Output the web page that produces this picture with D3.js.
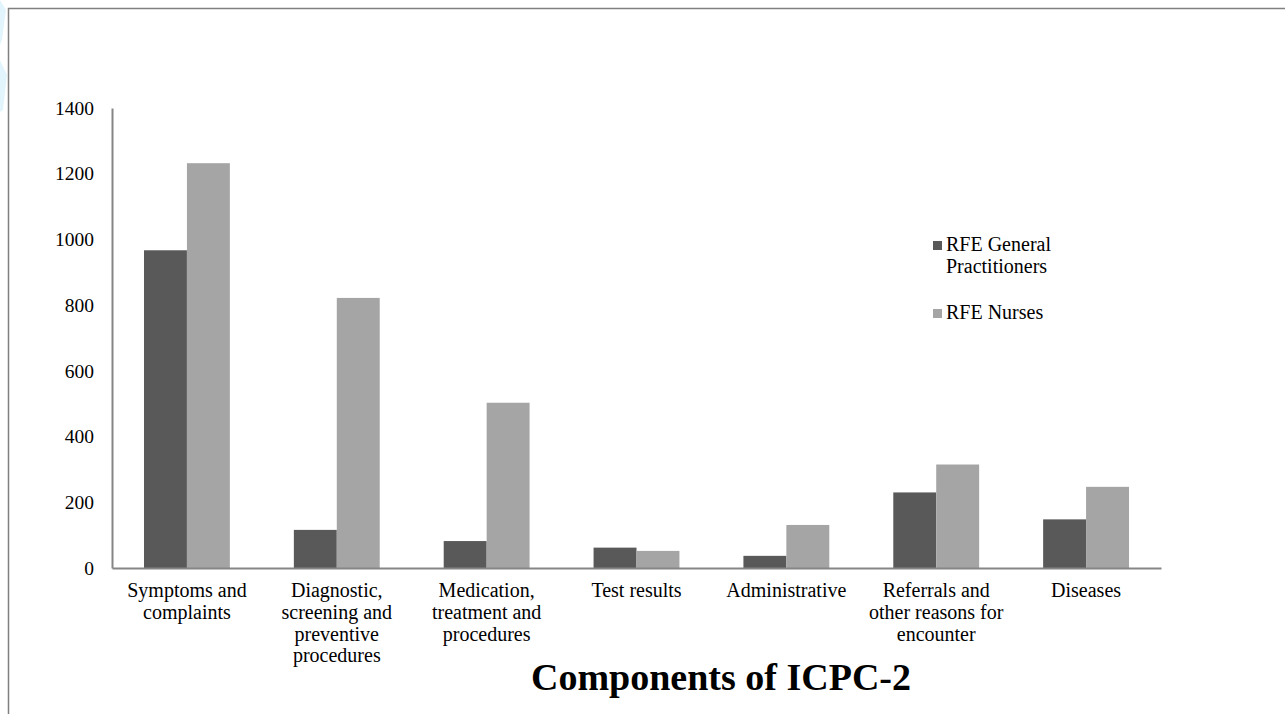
<!DOCTYPE html>
<html>
<head>
<meta charset="utf-8">
<script src="https://cdn.jsdelivr.net/npm/d3@7"></script>
<style>
  html, body { margin: 0; padding: 0; background: #fff; }
  svg { display: block; }
</style>
</head>
<body>
<svg id="chart" width="1285" height="714"></svg>
<script>
const categories = [
  "Symptoms and complaints",
  "Diagnostic, screening and preventive procedures",
  "Medication, treatment and procedures",
  "Test results",
  "Administrative",
  "Referrals and other reasons for encounter",
  "Diseases"
];
const categoryLines = [
  ["Symptoms and", "complaints"],
  ["Diagnostic,", "screening and", "preventive", "procedures"],
  ["Medication,", "treatment and", "procedures"],
  ["Test results"],
  ["Administrative"],
  ["Referrals and", "other reasons for", "encounter"],
  ["Diseases"]
];
const seriesNames = ["RFE General Practitioners", "RFE Nurses"];
const legendLines = [["RFE General", "Practitioners"], ["RFE Nurses"]];
const gpValues = [967, 116, 82, 62, 37, 230, 148];
const nurseValues = [1232, 822, 503, 52, 131, 315, 247];
const yTicks = [0, 200, 400, 600, 800, 1000, 1200, 1400];
const titleText = "Components of ICPC-2";

const colors = ["#595959", "#a5a5a5"];
const font = "'Liberation Serif', 'Times New Roman', serif";

const svg = d3.select("#chart");

// decorative left-edge tint
svg.append("path").attr("d", "M0,0 L6,10 L2,40 L0,45 Z").attr("fill", "#e3f5fc");
svg.append("path").attr("d", "M0,60 L7,75 L3,110 L0,112 Z").attr("fill", "#e3f5fc");

// outer frame
svg.append("path")
  .attr("d", "M8.5,714 L8.5,8.5 L1285,8.5")
  .attr("fill", "none").attr("stroke", "#808080").attr("stroke-width", 1.5);

const plotLeft = 112, plotRight = 1161, plotTop = 108, plotBottom = 568;

const x0 = d3.scaleBand().domain(categories).range([plotLeft, plotRight])
  .paddingInner(0.427).paddingOuter(0.2135);
const x1 = d3.scaleBand().domain(seriesNames).range([0, x0.bandwidth()]).padding(0);
const y = d3.scaleLinear().domain([0, 1400]).range([plotBottom, plotTop]);

// bars
const groups = svg.append("g").selectAll("g").data(categories).join("g")
  .attr("transform", d => `translate(${x0(d)},0)`);
groups.selectAll("rect")
  .data((d, i) => [
    { s: seriesNames[0], v: gpValues[i], c: colors[0] },
    { s: seriesNames[1], v: nurseValues[i], c: colors[1] }
  ])
  .join("rect")
  .attr("x", d => x1(d.s))
  .attr("width", x1.bandwidth())
  .attr("y", d => y(d.v))
  .attr("height", d => y(0) - y(d.v))
  .attr("fill", d => d.c);

// y axis
const yAxis = svg.append("g").attr("transform", `translate(${plotLeft},0)`)
  .call(d3.axisLeft(y).tickValues(yTicks).tickSize(0).tickPadding(18).tickFormat(d3.format("d")));
yAxis.select(".domain").attr("stroke", "#868686").attr("stroke-width", 2);
yAxis.selectAll("text").attr("font-family", font).attr("font-size", 19.5).attr("fill", "#000");

// x axis
const xAxis = svg.append("g").attr("transform", `translate(0,${plotBottom})`)
  .call(d3.axisBottom(x0).tickSize(0).tickSizeOuter(0));
xAxis.select(".domain").attr("stroke", "#868686").attr("stroke-width", 2);
xAxis.selectAll(".tick text").each(function(d, i) {
  const t = d3.select(this);
  t.text(null).attr("y", 0).attr("dy", null)
    .attr("font-family", font).attr("font-size", 20).attr("fill", "#000");
  categoryLines[i].forEach((ln, k) => {
    t.append("tspan").attr("x", 0).attr("y", 29 + k * 21.8).text(ln);
  });
});

// legend
const legend = svg.append("g");
const legendY = [241, 309];
seriesNames.forEach((s, i) => {
  legend.append("rect").attr("x", 933).attr("y", legendY[i]).attr("width", 9).attr("height", 9)
    .attr("fill", colors[i]);
  const t = legend.append("text").attr("font-family", font).attr("font-size", 20).attr("fill", "#000");
  legendLines[i].forEach((ln, k) => {
    t.append("tspan").attr("x", 946).attr("y", legendY[i] + 10 + k * 22).text(ln);
  });
});

// title
svg.append("text").attr("x", 721).attr("y", 690).attr("text-anchor", "middle")
  .attr("font-family", font).attr("font-weight", "bold").attr("font-size", 38)
  .attr("fill", "#000").text(titleText);
</script>
</body>
</html>
